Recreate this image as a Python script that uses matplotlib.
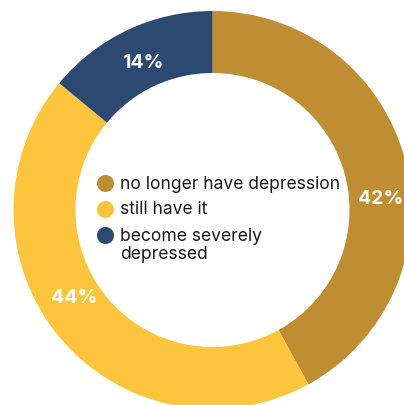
import matplotlib
matplotlib.use("Agg")
import matplotlib.pyplot as plt
import numpy as np

categories = ["no longer have depression", "still have it", "become severely\ndepressed"]
values = [42, 44, 14]
pct_labels = ["42%", "44%", "14%"]
colors = ["#BF8D32", "#FDC53D", "#2B4971"]
# label placement (degrees clockwise from top, radius in px)
label_angles = [86.2, 237.6, -25.3]
label_radii = [168, 164, 163]

W, H = 404, 405
cx, cy = 212.5, 210.0  # pie center in pixels (from top-left)
R_out, R_in = 199, 137

fig = plt.figure(figsize=(W / 100, H / 100), dpi=100)
ax = fig.add_axes([0, 0, 1, 1])

ax.pie(values, colors=colors, startangle=90, counterclock=False, radius=R_out,
       wedgeprops=dict(width=R_out - R_in, linewidth=0), center=(0, 0),
       frame=True)
ax.set_xlim(-cx, W - cx)
ax.set_ylim(cy - H, cy)
ax.set_aspect("equal")
ax.axis("off")

for lab, ang, r in zip(pct_labels, label_angles, label_radii):
    t = np.deg2rad(ang)
    ax.text(r * np.sin(t), r * np.cos(t), lab, color="white", fontsize=14,
            fontweight="bold", family="Inter", ha="center", va="center")

# legend in the hole
dot_x = 105.3 - cx
text_x = 120.5 - cx
dot_ys = [182.7, 209.3, 235.0]
base_ys = [189.0, 214.3, 240.7]
line_gap = 18.5
for c, lab, dy, by in zip(colors, categories, dot_ys, base_ys):
    ax.scatter([dot_x], [cy - dy], s=150, color=c, linewidths=0, zorder=5)
    for i, line in enumerate(lab.split("\n")):
        ax.text(text_x, cy - by - i * line_gap, line, fontsize=12.6, family="Inter",
                color="#1a1a1a", ha="left", va="baseline")

fig.savefig("out.png", dpi=100)
